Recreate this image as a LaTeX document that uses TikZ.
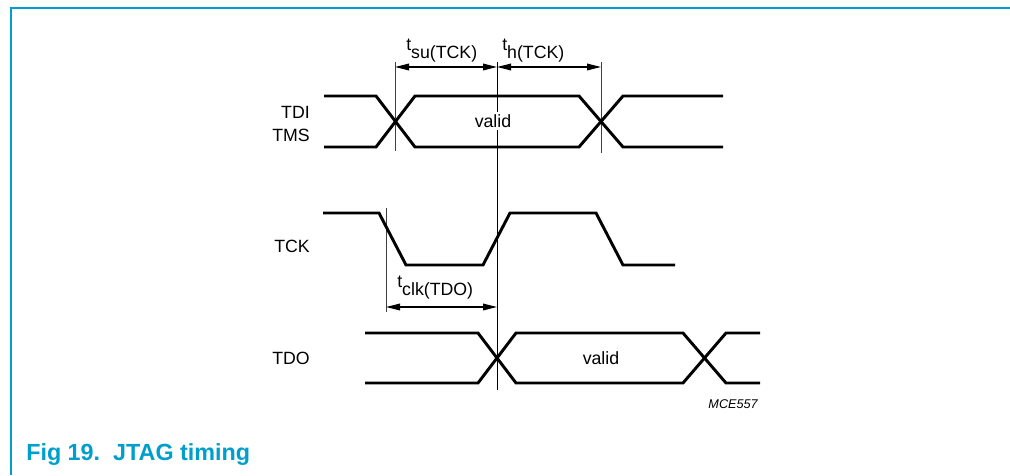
\documentclass[tikz,border=0pt]{standalone}
\usepackage{fontspec}
\setmainfont{Liberation Sans}
\usetikzlibrary{arrows.meta}
\definecolor{nxpcyan}{RGB}{0,158,204}
\tikzset{
  sig/.style={line width=2.2pt, line join=miter},
  guide/.style={line width=0.6pt, black!75},
  cline/.style={line width=0.75pt, black},
  dimarrow/.style={line width=0.9pt, {Triangle[length=10.5pt,width=5pt]}-{Triangle[length=10.5pt,width=5pt]}},
  lbl/.style={font=\fontsize{13.3}{15}\selectfont, inner sep=0pt},
  frame/.style={line width=1.3pt, nxpcyan},
}
\begin{document}
\begin{tikzpicture}[x=0.75pt,y=-0.75pt]
\useasboundingbox (0,0) rectangle (1010,475);
\draw[frame] (11,475) -- (11,8) -- (1010,8);

% key coordinates
\coordinate (c)  at (497,62);
\coordinate (cb) at (497,390);
\coordinate (k1) at (386,208);
\coordinate (k1b) at (386,312);

% guide lines
\draw[guide] (395,62) -- (395,151);
\draw[guide] (601,62) -- (601,153);
\draw[guide] (k1) -- (k1b);
\draw[cline] (c) -- (cb);

% TDI/TMS
\draw[sig] (324,96) -- (376,96) -- (415,147) -- (579,147) -- (623,96) -- (723,96);
\draw[sig] (324,147) -- (376,147) -- (415,96) -- (579,96) -- (623,147) -- (723,147);
\node[lbl, fill=white, inner sep=2pt] (v1) at (493,121) {valid};

% TCK
\draw[sig] (323,213) -- (379,213) -- (406,265) -- (483,265) -- (510,213) -- (596,213) -- (623,265) -- (675,265);

% TDO
\draw[sig] (365,333) -- (478,333) -- (516,383) -- (683,383) -- (726,333) -- (760,333);
\draw[sig] (365,383) -- (478,383) -- (516,333) -- (683,333) -- (726,383) -- (760,383);
\node[lbl] (v2) at (601,358) {valid};

% signal names
\node[lbl, anchor=base east] (tdi) at (310,118) {TDI};
\node[lbl, anchor=base east] (tms) at (310,141) {TMS};
\node[lbl, anchor=base east] (tck) at (310,252) {TCK};
\node[lbl, anchor=base east] (tdo) at (310,364) {TDO};

% dimension arrows
\coordinate (a1) at (395,67);
\coordinate (a2) at (497,67);
\coordinate (a3) at (601,67);
\coordinate (b1) at (386,307);
\coordinate (b2) at (497,307);
\draw[dimarrow] (a1) -- (a2);
\draw[dimarrow] (a2) -- (a3);
\draw[dimarrow] (b1) -- (b2);

\node[lbl, anchor=base west] (tsu) at (406,50) {t\raisebox{-6.5pt}{su(TCK)}};
\node[lbl, anchor=base west] (th) at (502,50) {t\raisebox{-6.5pt}{h(TCK)}};
\node[lbl, anchor=base west] (tclk) at (397,287) {t\raisebox{-6.5pt}{clk(TDO)}};

\node[inner sep=0pt, anchor=base east, font=\fontsize{9.5}{11}\selectfont\itshape] (mce) at (758,408) {MCE557};

\node[inner sep=0pt, anchor=base west, text=nxpcyan, font=\fontsize{17.5}{20}\selectfont\bfseries] (cap) at (26,460) {Fig 19.\ \ JTAG timing};
\end{tikzpicture}
\end{document}
